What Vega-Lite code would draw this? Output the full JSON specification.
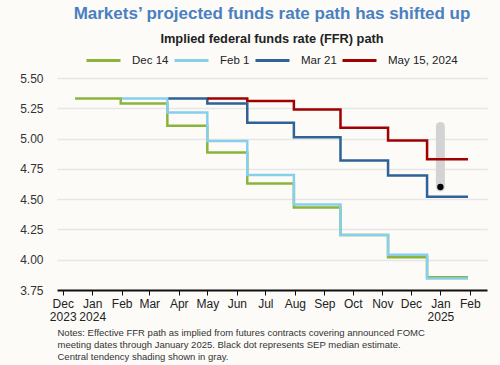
{
  "$schema": "https://vega.github.io/schema/vega-lite/v6.json",
  "width": 430,
  "height": 212,
  "autosize": "none",
  "padding": {"left": 57, "top": 78, "right": 13, "bottom": 75},
  "background": "#fcfbf8",
  "config": {"view": {"stroke": null}, "font": "Liberation Sans"},
  "title": {
    "text": "Markets’ projected funds rate path has shifted up",
    "subtitle": "Implied federal funds rate (FFR) path",
    "anchor": "middle",
    "frame": "group",
    "fontSize": 17,
    "fontWeight": "bold",
    "color": "#4a7fc1",
    "subtitleFontSize": 12.8,
    "subtitleFontWeight": "bold",
    "subtitleColor": "#222222",
    "subtitlePadding": 10,
    "offset": -5
  },
  "datasets": {
    "paths": [
      {"series": "Dec 14", "date": "2023-12-14", "rate": 5.33},
      {"series": "Dec 14", "date": "2024-01-31", "rate": 5.29},
      {"series": "Dec 14", "date": "2024-03-20", "rate": 5.105},
      {"series": "Dec 14", "date": "2024-05-01", "rate": 4.885},
      {"series": "Dec 14", "date": "2024-06-12", "rate": 4.63},
      {"series": "Dec 14", "date": "2024-07-31", "rate": 4.43},
      {"series": "Dec 14", "date": "2024-09-18", "rate": 4.205},
      {"series": "Dec 14", "date": "2024-11-07", "rate": 4.02},
      {"series": "Dec 14", "date": "2024-12-18", "rate": 3.855},
      {"series": "Dec 14", "date": "2025-01-30", "rate": 3.855},
      {"series": "Feb 1", "date": "2024-02-01", "rate": 5.33},
      {"series": "Feb 1", "date": "2024-03-20", "rate": 5.215},
      {"series": "Feb 1", "date": "2024-05-01", "rate": 4.98},
      {"series": "Feb 1", "date": "2024-06-12", "rate": 4.70},
      {"series": "Feb 1", "date": "2024-07-31", "rate": 4.455},
      {"series": "Feb 1", "date": "2024-09-18", "rate": 4.205},
      {"series": "Feb 1", "date": "2024-11-07", "rate": 4.04},
      {"series": "Feb 1", "date": "2024-12-18", "rate": 3.845},
      {"series": "Feb 1", "date": "2025-01-30", "rate": 3.845},
      {"series": "Mar 21", "date": "2024-03-21", "rate": 5.33},
      {"series": "Mar 21", "date": "2024-05-01", "rate": 5.29},
      {"series": "Mar 21", "date": "2024-06-12", "rate": 5.13},
      {"series": "Mar 21", "date": "2024-07-31", "rate": 5.01},
      {"series": "Mar 21", "date": "2024-09-18", "rate": 4.82},
      {"series": "Mar 21", "date": "2024-11-07", "rate": 4.695},
      {"series": "Mar 21", "date": "2024-12-18", "rate": 4.52},
      {"series": "Mar 21", "date": "2025-01-30", "rate": 4.52},
      {"series": "May 15, 2024", "date": "2024-05-01", "rate": 5.33},
      {"series": "May 15, 2024", "date": "2024-06-12", "rate": 5.31},
      {"series": "May 15, 2024", "date": "2024-07-31", "rate": 5.24},
      {"series": "May 15, 2024", "date": "2024-09-18", "rate": 5.09},
      {"series": "May 15, 2024", "date": "2024-11-07", "rate": 4.985},
      {"series": "May 15, 2024", "date": "2024-12-18", "rate": 4.83},
      {"series": "May 15, 2024", "date": "2025-01-30", "rate": 4.83}
    ],
    "sep": [
      {"date": "2025-01-01", "rate": 4.6, "high": 5.1}
    ]
  },
  "encoding": {
    "x": {
      "field": "date",
      "type": "temporal",
      "scale": {
        "type": "utc",
        "domain": [
          {"year": 2023, "month": 11, "date": 25, "utc": true},
          {"year": 2025, "month": 2, "date": 19, "utc": true}
        ]
      },
      "axis": {
        "grid": false,
        "tickCount": {"interval": "month", "step": 1},
        "labelExpr": "(utcmonth(datum.value) == 0 || datum.index == 0) ? [utcFormat(datum.value, '%b'), utcFormat(datum.value, '%Y')] : utcFormat(datum.value, '%b')",
        "labelFontSize": 12,
        "labelColor": "#222222",
        "labelPadding": 3,
        "labelLineHeight": 13.5,
        "labelFlush": false,
        "labelOverlap": false,
        "domainColor": "#111111",
        "domainWidth": 2,
        "tickColor": "#111111",
        "tickSize": 5,
        "tickWidth": 1,
        "title": [
          "Notes: Effective FFR path as implied from futures contracts covering announced FOMC",
          "meeting dates through January 2025. Black dot represents SEP median estimate.",
          "Central tendency shading shown in gray."
        ],
        "titleFontSize": 9.5,
        "titleFontWeight": "normal",
        "titleColor": "#333333",
        "titleAnchor": "start",
        "titleAlign": "left",
        "titlePadding": 5,
        "titleLineHeight": 12
      }
    },
    "y": {
      "field": "rate",
      "type": "quantitative",
      "scale": {"domain": [3.75, 5.5], "nice": false, "zero": false},
      "axis": {
        "values": [3.75, 4.0, 4.25, 4.5, 4.75, 5.0, 5.25, 5.5],
        "format": ".2f",
        "grid": true,
        "gridColor": "#e6e6e6",
        "gridWidth": 1.5,
        "domain": false,
        "ticks": false,
        "labelOverlap": false,
        "labelPadding": 14,
        "labelFontSize": 12,
        "labelColor": "#333333",
        "title": null
      }
    }
  },
  "layer": [
    {
      "data": {"name": "sep"},
      "mark": {"type": "rule", "strokeWidth": 9, "strokeCap": "round", "color": "#d3d3d3"},
      "encoding": {
        "y2": {"field": "high"}
      }
    },
    {
      "data": {"name": "paths"},
      "mark": {"type": "line", "interpolate": "step-after", "strokeWidth": 2.5},
      "encoding": {
        "color": {
          "field": "series",
          "type": "nominal",
          "sort": ["Dec 14", "Feb 1", "Mar 21", "May 15, 2024"],
          "scale": {
            "domain": ["Dec 14", "Feb 1", "Mar 21", "May 15, 2024"],
            "range": ["#8ab43c", "#87cfeb", "#2f6296", "#a00000"]
          },
          "legend": {
            "orient": "none",
            "legendX": 28,
            "legendY": -36,
            "direction": "horizontal",
            "gridAlign": "none",
            "title": null,
            "symbolType": "stroke",
            "symbolSize": 1156,
            "symbolStrokeWidth": 3,
            "labelOffset": 10,
            "columnPadding": -1,
            "labelFontSize": 11.5,
            "labelColor": "#222222"
          }
        }
      }
    },
    {
      "data": {"name": "sep"},
      "mark": {"type": "point", "filled": true, "size": 40, "color": "#000000", "opacity": 1}
    }
  ]
}
